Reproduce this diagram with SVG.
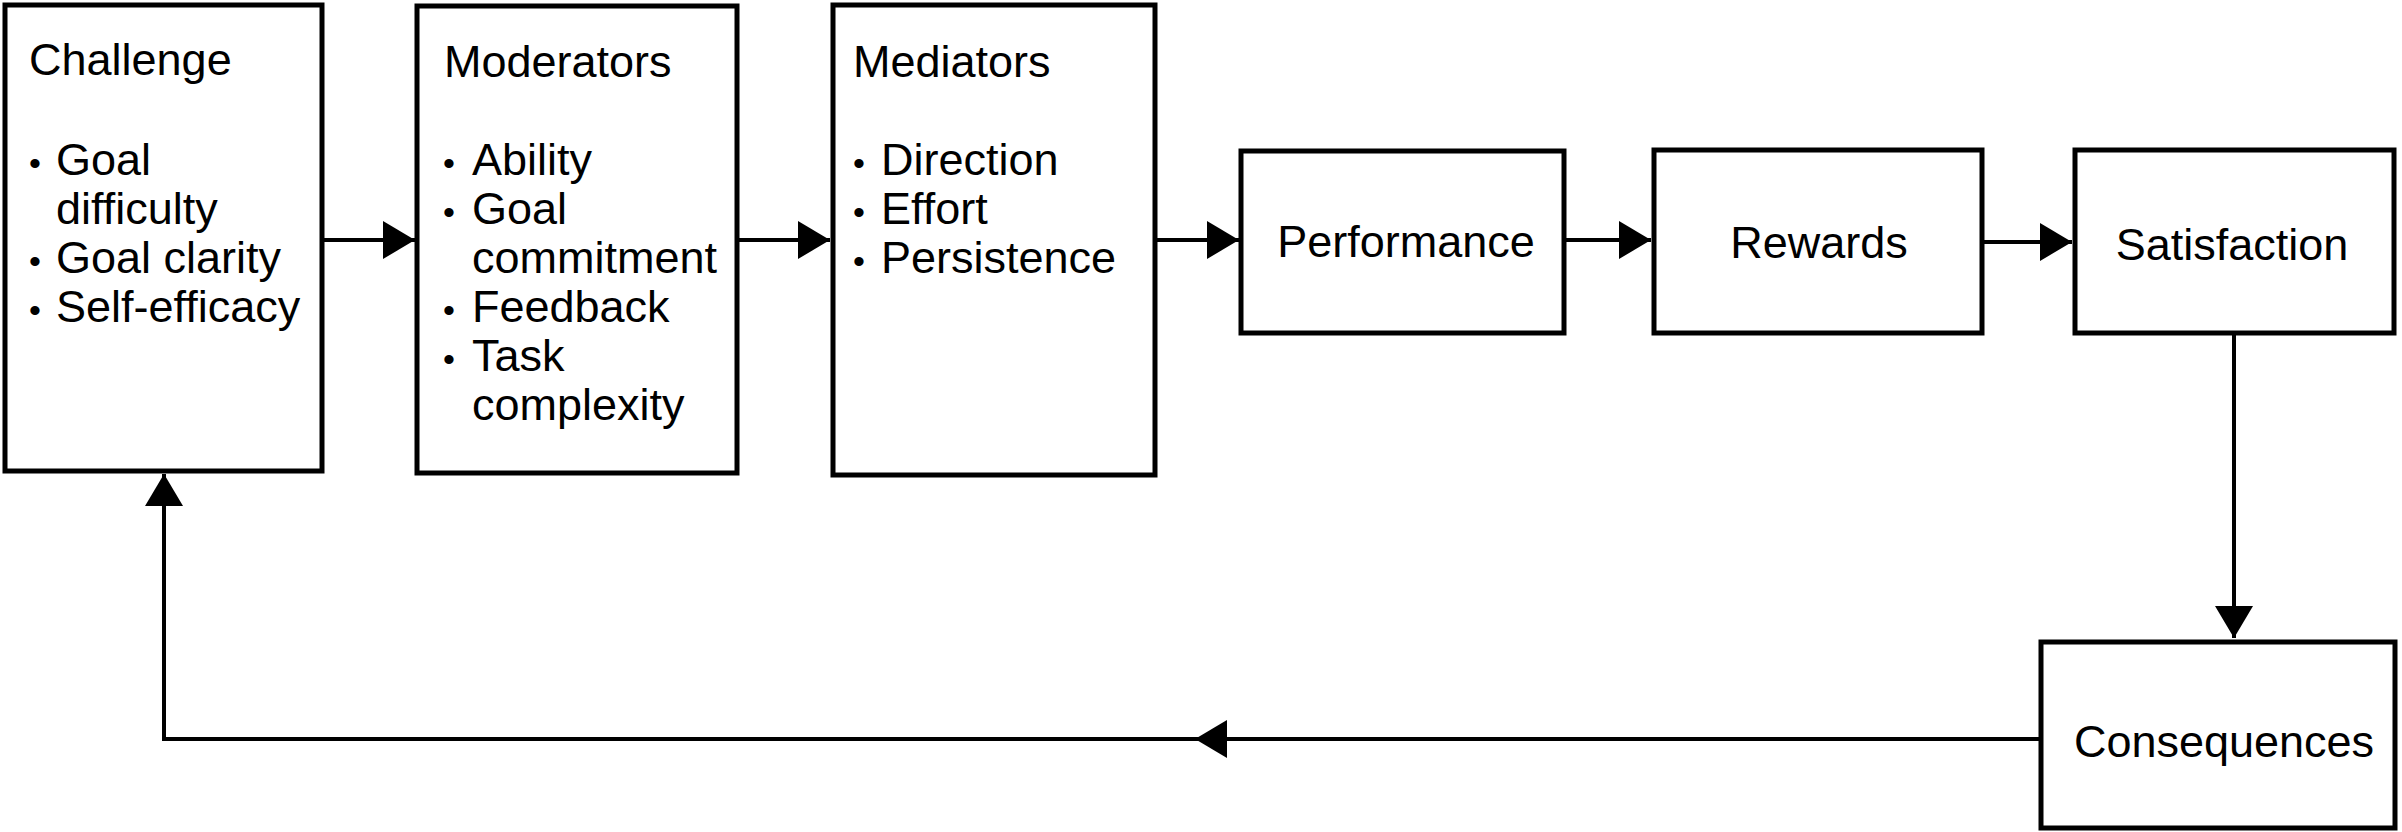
<svg xmlns="http://www.w3.org/2000/svg" width="2402" height="832" viewBox="0 0 2402 832">
<style>
.box{fill:#fff;stroke:#000;stroke-width:5}
.t{font-family:"Liberation Sans",Arial,Helvetica,sans-serif;font-size:45px;fill:#000}
.b{font-size:34px}
.c{text-anchor:middle}
.ln{fill:none;stroke:#000;stroke-width:4}
</style>
<defs>
<marker id="ah" markerUnits="userSpaceOnUse" markerWidth="34" markerHeight="40" refX="32" refY="19" orient="auto" overflow="visible">
<path d="M0,0 L32,19 L0,38 Z" fill="#000"/>
</marker>
</defs>
<rect width="2402" height="832" fill="#fff"/>
<g id="connectors">
<path class="ln" d="M322,240 H415" marker-end="url(#ah)"/>
<path class="ln" d="M737,240 H830" marker-end="url(#ah)"/>
<path class="ln" d="M1155,240 H1239" marker-end="url(#ah)"/>
<path class="ln" d="M1564,240 H1651" marker-end="url(#ah)"/>
<path class="ln" d="M1982,242 H2072" marker-end="url(#ah)"/>
<path class="ln" d="M2234,333 V638" marker-end="url(#ah)"/>
<path class="ln" d="M2040,739 H1195" marker-end="url(#ah)"/>
<path class="ln" d="M1197,739 H164 V474" marker-end="url(#ah)"/>
</g>
<g id="challenge">
<rect class="box" x="5" y="5" width="317" height="466"/>
<text class="t" x="29" y="75">Challenge</text>
<text class="t" x="29" y="175"><tspan class="b">•</tspan><tspan x="56">Goal</tspan></text>
<text class="t" x="56" y="224">difficulty</text>
<text class="t" x="29" y="273"><tspan class="b">•</tspan><tspan x="56">Goal clarity</tspan></text>
<text class="t" x="29" y="322"><tspan class="b">•</tspan><tspan x="56">Self-efficacy</tspan></text>
</g>
<g id="moderators">
<rect class="box" x="417" y="6" width="320" height="467"/>
<text class="t" x="444" y="77">Moderators</text>
<text class="t" x="443" y="175"><tspan class="b">•</tspan><tspan x="472">Ability</tspan></text>
<text class="t" x="443" y="224"><tspan class="b">•</tspan><tspan x="472">Goal</tspan></text>
<text class="t" x="472" y="273">commitment</text>
<text class="t" x="443" y="322"><tspan class="b">•</tspan><tspan x="472">Feedback</tspan></text>
<text class="t" x="443" y="371"><tspan class="b">•</tspan><tspan x="472">Task</tspan></text>
<text class="t" x="472" y="420">complexity</text>
</g>
<g id="mediators">
<rect class="box" x="833" y="5" width="322" height="470"/>
<text class="t" x="853" y="77">Mediators</text>
<text class="t" x="853" y="175"><tspan class="b">•</tspan><tspan x="881">Direction</tspan></text>
<text class="t" x="853" y="224"><tspan class="b">•</tspan><tspan x="881">Effort</tspan></text>
<text class="t" x="853" y="273"><tspan class="b">•</tspan><tspan x="881">Persistence</tspan></text>
</g>
<g id="performance">
<rect class="box" x="1241" y="151" width="323" height="182"/>
<text class="t c" x="1406" y="257">Performance</text>
</g>
<g id="rewards">
<rect class="box" x="1654" y="150" width="328" height="183"/>
<text class="t c" x="1819" y="258">Rewards</text>
</g>
<g id="satisfaction">
<rect class="box" x="2075" y="150" width="319" height="183"/>
<text class="t c" x="2232" y="260">Satisfaction</text>
</g>
<g id="consequences">
<rect class="box" x="2041" y="642" width="354" height="186"/>
<text class="t c" x="2224" y="757">Consequences</text>
</g>
</svg>
